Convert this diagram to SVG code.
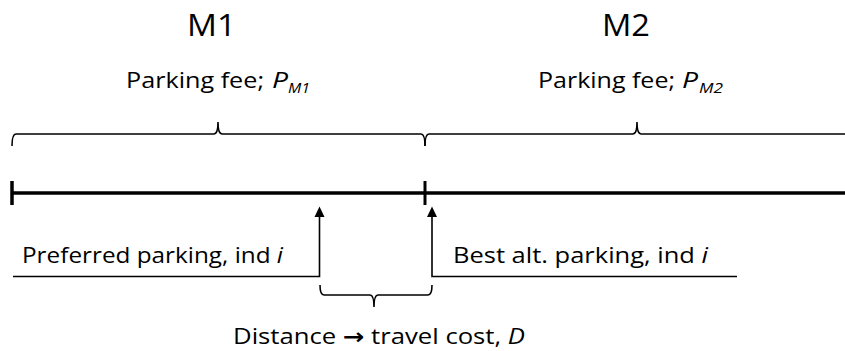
<svg xmlns="http://www.w3.org/2000/svg" width="845" height="351" viewBox="0 0 845 351">
  <style>
    text { font-family: "Open Sans", "Noto Sans", "Liberation Sans", sans-serif; fill: #000; }
    .title { font-size: 31px; }
    .lbl { font-size: 22px; }
    .it { font-style: italic; }
    .sub { font-size: 15px; font-style: italic; }
    .arrow { font-family: "DejaVu Sans", sans-serif; font-weight: bold; font-size: 22px; }
    .thin { fill: none; stroke: #000; stroke-width: 1.6; }
    .axis { fill: none; stroke: #000; stroke-width: 3.5; }
    .head { fill: #000; }
  </style>

  <!-- Zone M1 -->
  <g id="zone-m1">
    <text class="title" x="187" y="36" textLength="49" lengthAdjust="spacingAndGlyphs">M1</text>
    <text class="lbl" x="126" y="88" textLength="138" lengthAdjust="spacingAndGlyphs">Parking fee;</text>
    <text class="lbl it" x="272" y="88" textLength="16" lengthAdjust="spacingAndGlyphs">P</text>
    <text class="sub" x="288" y="93" textLength="22" lengthAdjust="spacingAndGlyphs">M1</text>
    <path class="thin" d="M12,146 Q12,134 16,134 L214,134 Q218,134 218,122 Q218,134 222,134 L421,134 Q425,134 425,146"/>
  </g>

  <!-- Zone M2 -->
  <g id="zone-m2">
    <text class="title" x="602" y="36" textLength="48" lengthAdjust="spacingAndGlyphs">M2</text>
    <text class="lbl" x="538" y="88" textLength="137" lengthAdjust="spacingAndGlyphs">Parking fee;</text>
    <text class="lbl it" x="682" y="88" textLength="16" lengthAdjust="spacingAndGlyphs">P</text>
    <text class="sub" x="699" y="93" textLength="24" lengthAdjust="spacingAndGlyphs">M2</text>
    <path class="thin" d="M425,146 Q425,134 429,134 L633,134 Q637,134 637,122 Q637,134 641,134 L845,134"/>
  </g>

  <!-- Street axis with zone boundaries -->
  <g id="street">
    <path class="axis" d="M12,193 H845"/>
    <path class="axis" d="M12,181 V205"/>
    <path class="axis" d="M425,181 V205" style="stroke-width:3"/>
  </g>

  <!-- Preferred parking location -->
  <g id="preferred">
    <text class="lbl" x="22" y="263" textLength="261" lengthAdjust="spacingAndGlyphs">Preferred parking, ind <tspan class="it">i</tspan></text>
  </g>

  <!-- Best alternative parking location -->
  <g id="alternative">
    <text class="lbl" x="453" y="263" textLength="255" lengthAdjust="spacingAndGlyphs">Best alt. parking, ind <tspan class="it">i</tspan></text>
  </g>

  <!-- Distance between the two locations -->
  <g id="distance">
    <path class="thin" d="M320,285 Q320,295 324,295 L370,295 Q374,295 374,307 Q374,295 378,295 L428,295 Q432,295 432,285"/>
    <text class="lbl" x="233" y="344" textLength="292" lengthAdjust="spacingAndGlyphs">Distance <tspan class="arrow">→</tspan> travel cost, <tspan class="it">D</tspan></text>
  </g>

  <!-- Connectors from labels to the street -->
  <g id="connectors">
    <path class="thin" d="M13,276.5 H319.5 V216"/>
    <polygon class="head" points="314.5,217 324.5,217 319.5,206.5"/>
    <path class="thin" d="M737,276.5 H432 V216"/>
    <polygon class="head" points="427,217 437,217 432,206.5"/>
  </g>
</svg>
